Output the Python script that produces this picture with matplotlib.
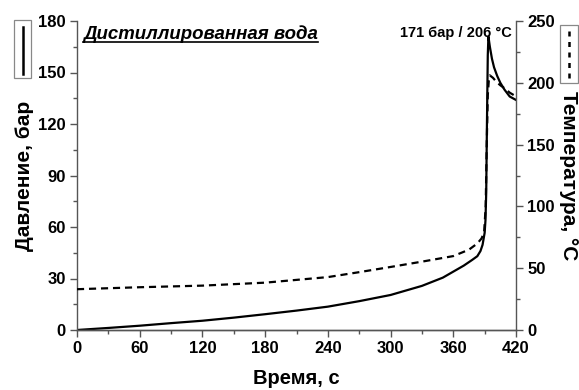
import matplotlib
matplotlib.use("Agg")
import matplotlib.pyplot as plt
from matplotlib.ticker import MultipleLocator
from matplotlib.lines import Line2D
from matplotlib.patches import Rectangle

plt.rcParams['font.family'] = ['Liberation Sans', 'DejaVu Sans']

# Pressure (bar) vs time (s)
t_p = [0, 30, 60, 90, 120, 150, 180, 210, 240, 270, 300, 330, 350, 360, 370, 378, 383, 386, 388, 390, 390.8, 391.5, 392.2, 393,
       393.6, 395, 397, 399, 402, 405, 409, 414, 420]
p = [0, 1.2, 2.5, 4.0, 5.4, 7.2, 9.2, 11.3, 13.6, 16.8, 20.4, 25.7, 30.5, 34, 37.5, 40.8, 43, 46, 49.6, 56.6, 64, 80, 120, 160,
     171, 165, 158, 153, 148, 144, 140, 136, 134]

# Temperature (°C) vs time (s)
t_t = [0, 60, 120, 180, 240, 270, 300, 330, 360, 375, 383, 387, 389.5, 391, 392, 393, 394, 395, 398, 401, 405, 410, 414, 420]
temp = [33, 34.6, 35.9, 38.3, 42.8, 46.8, 51, 55.3, 59.8, 65, 70, 74, 79, 100, 150, 190, 202, 206, 204, 201, 198, 195, 192, 189]

x_ticks = [0, 60, 120, 180, 240, 300, 360, 420]
p_ticks = [0, 30, 60, 90, 120, 150, 180]
t_ticks = [0, 50, 100, 150, 200, 250]

title = "Дистиллированная вода"
peak_label = "171 бар / 206 °C"

fig = plt.figure(figsize=(5.79, 3.90), dpi=100)
ax = fig.add_axes([77/579, 1-330/390, (516-77)/579, (330-21)/390])
ax2 = ax.twinx()

spine_col = '#555555'
ax.plot(t_p, p, color='black', lw=1.6, solid_joinstyle='round')
ax2.plot(t_t, temp, color='black', lw=1.6, linestyle=(0, (3.2, 2.2)))

ax.set_xlim(0, 420)
ax.set_ylim(0, 180)
ax2.set_ylim(0, 250)
ax.set_xticks(x_ticks)
ax.set_yticks(p_ticks)
ax2.set_yticks(t_ticks)
ax.xaxis.set_minor_locator(MultipleLocator(30))
ax.yaxis.set_minor_locator(MultipleLocator(15))
ax2.yaxis.set_minor_locator(MultipleLocator(25))

for a in (ax, ax2):
    a.spines['top'].set_visible(False)
    for s in a.spines.values():
        s.set_color(spine_col)
        s.set_linewidth(1.0)
    a.tick_params(which='major', direction='out', length=5, width=1, color=spine_col,
                  labelsize=12, pad=3)
    a.tick_params(which='minor', direction='out', length=3, width=1, color=spine_col)
    for lbl in a.get_xticklabels() + a.get_yticklabels():
        lbl.set_fontweight('bold')
ax2.spines['left'].set_visible(False)
ax.spines['right'].set_visible(False)

ax.set_xlabel("Время, с", fontsize=14.5, fontweight='bold', labelpad=9)
ax.set_ylabel("Давление, бар", fontsize=15, fontweight='bold', labelpad=3)
ax2.set_ylabel("Температура, °C", fontsize=15, fontweight='bold', rotation=-90, labelpad=17)

# title with underline
tt = ax.text(6/439, 0.985, title, transform=ax.transAxes, fontsize=13.4, fontweight='bold',
             fontstyle='italic', ha='left', va='top')
ax.text(1.0 - 4/439, 0.985, peak_label, transform=ax.transAxes, fontsize=10.5, fontweight='bold',
        ha='right', va='top')

fig.canvas.draw()
bb = tt.get_window_extent()
inv = fig.transFigure.inverted()
(x0, y0), (x1, y1) = inv.transform([(bb.x0, bb.y0), (bb.x1, bb.y0)])
fig.add_artist(Line2D([x0, x1], [y0 + 1/390, y0 + 1/390], color='black', lw=1.2, transform=fig.transFigure))

# legend boxes
def fig_rect(px0, py0, px1, py1):
    return Rectangle((px0/579, 1-py1/390), (px1-px0)/579, (py1-py0)/390, transform=fig.transFigure,
                     fill=False, edgecolor='#888888', lw=0.9)

fig.add_artist(fig_rect(14, 20, 31, 78))
fig.add_artist(Line2D([22.5/579]*2, [1-27/390, 1-74/390], color='black', lw=1.8, transform=fig.transFigure))
fig.add_artist(fig_rect(560, 25, 578, 83))
fig.add_artist(Line2D([569/579]*2, [1-31/390, 1-78/390], color='black', lw=1.8,
                      linestyle=(0, (2.0, 2.2)), transform=fig.transFigure))

fig.savefig("out.png", dpi=100)
